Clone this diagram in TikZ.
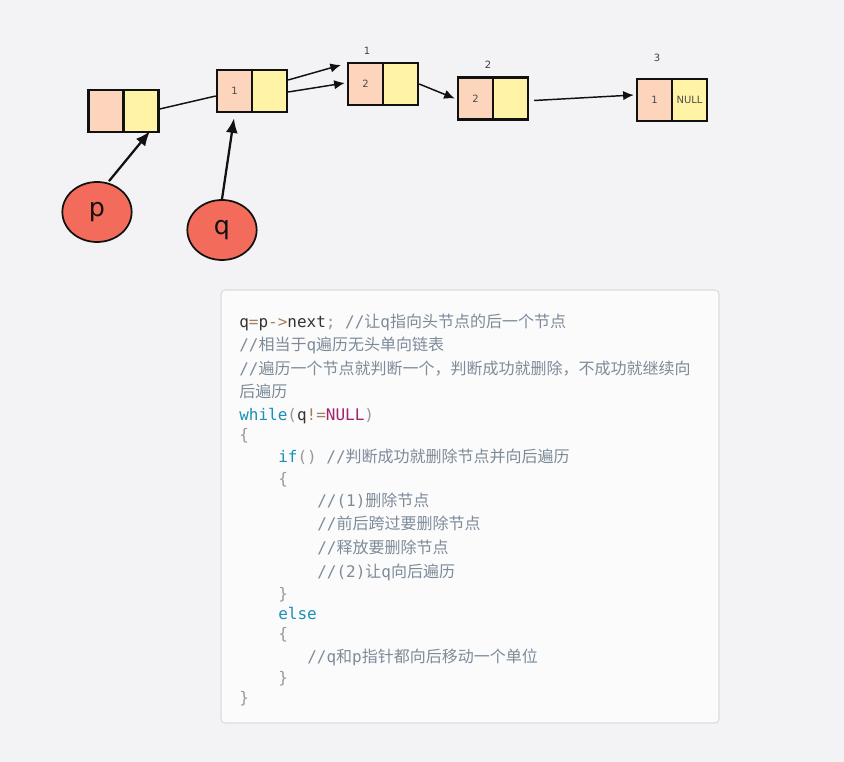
\documentclass[tikz,border=0pt]{standalone}
\usepackage{fontspec}
\setmainfont{DejaVu Sans}
\newfontfamily\cjk{Noto Sans CJK SC}
\newfontfamily\monof{DejaVu Sans Mono}
\usetikzlibrary{arrows.meta,calc,shapes.geometric}
\definecolor{bg}{HTML}{F3F3F6}
\definecolor{boxfill}{HTML}{FBFBFC}
\definecolor{boxline}{HTML}{DCDCE0}
\definecolor{peach}{HTML}{FDD4BC}
\definecolor{lemon}{HTML}{FFF3A6}
\definecolor{tomato}{HTML}{F26B5B}
\definecolor{ink}{HTML}{111111}
\definecolor{ctext}{HTML}{333333}
\definecolor{cop}{HTML}{A67F59}
\definecolor{ccom}{HTML}{7D8B99}
\definecolor{ckey}{HTML}{1990B8}
\definecolor{cnull}{HTML}{A0236B}
\definecolor{cpun}{HTML}{999999}
\newcommand\zh[1]{{\cjk #1}}
\tikzset{
  cellL/.style={draw=ink, line width=1.8pt, fill=peach, minimum width=26.25pt, minimum height=31.5pt, inner sep=0pt, font=\fontsize{7.5pt}{8pt}\selectfont, text=black!70},
  cellR/.style={draw=ink, line width=1.8pt, fill=lemon, minimum width=26.25pt, minimum height=31.5pt, inner sep=0pt, font=\fontsize{7.5pt}{8pt}\selectfont, text=black!70},
  ptr/.style={draw=ink, line width=1.3pt, fill=tomato, ellipse, minimum width=52pt, minimum height=45pt, inner sep=0pt, font=\fontsize{19pt}{20pt}\selectfont, text=ink},
  lab/.style={font=\fontsize{7.5pt}{8pt}\selectfont, text=black!75, inner sep=0pt},
  link/.style={draw=ink, line width=1.1pt, -{Latex[length=8pt,width=7pt]}},
  plink/.style={draw=ink, line width=1.7pt, -{Latex[length=11pt,width=9pt]}},
  code/.style={anchor=base west, inner sep=0pt, font=\monof\fontsize{12pt}{14pt}\selectfont, text=ccom},
}
\begin{document}
\begin{tikzpicture}[x=0.75pt,y=-0.75pt]
\fill[bg] (0,0) rectangle (844,762);
\useasboundingbox (0,0) rectangle (844,762);
% code box
\draw[boxline, fill=boxfill, rounded corners=3pt, line width=0.8pt] (221,290) rectangle (719,723);

% list nodes
\node[cellL] (A1) at (106,111) {};
\node[cellR] (A2) at (141,111) {};
\node[cellL] (B1) at (234.5,91) {1};
\node[cellR] (B2) at (269.5,91) {};
\node[cellL] (C1) at (365.5,84) {2};
\node[cellR] (C2) at (400.5,84) {};
\node[cellL] (D1) at (475.5,98.5) {2};
\node[cellR] (D2) at (510.5,98.5) {};
\node[cellL] (E1) at (654.5,100) {1};
\node[cellR] (E2) at (689.5,100) {NULL};
\node[lab] (lc) at (367,51) {1};
\node[lab] (ld) at (488,65) {2};
\node[lab] (le) at (657,58) {3};

\node[ptr] (p) at (97,212) {p};
\node[ptr] (q) at (222,230) {q};

\coordinate (free) at (341,65);

% connectors
\draw[ink, line width=1.1pt] ($(A2.east)+(0,-2)$) -- ($(B1.west)+(0,5)$);
\draw[link] ($(B2.east)+(0,-11)$) -- (free);
\draw[link] ($(B2.east)+(0,1)$) -- ($(C1.west)+(-2,-1)$);
\draw[link] (C2.east) -- ($(D1.west)+(-2,0)$);
\draw[link] ($(D2.east)+(5,2)$) -- ($(E1.west)+(-2,-5)$);
\draw[plink] ($(p.north)+(12,0)$) -- ($(A2.south)+(9,-2)$);
\draw[plink] (q.north) -- ($(B1.south)+(-0.5,5)$);

% code lines
\node[code] (l1) at (239,328) {\color{ctext}q\color{cop}=\color{ctext}p\color{cop}->\color{ctext}next\color{cpun};\ \color{ccom}//\zh{让}q\zh{指向头节点的后一个节点}};
\node[code] (l2) at (239,351) {//\zh{相当于}q\zh{遍历无头单向链表}};
\node[code] (l3) at (239,375) {//\zh{遍历一个节点就判断一个，判断成功就删除，不成功就继续向}};
\node[code] (l4) at (239,398) {\zh{后遍历}};
\node[code] (l5) at (239,421) {\color{ckey}while\color{cpun}(\color{ctext}q\color{cop}!=\color{cnull}NULL\color{cpun})};
\node[code, text=cpun] (l6) at (239,441) {\{};
\node[code] (l7) at (278,463) {\color{ckey}if\color{cpun}()\ \color{ccom}//\zh{判断成功就删除节点并向后遍历}};
\node[code, text=cpun] (l8) at (278,485) {\{};
\node[code] (l9) at (317,507) {//(1)\zh{删除节点}};
\node[code] (l10) at (317,530) {//\zh{前后跨过要删除节点}};
\node[code] (l11) at (317,554) {//\zh{释放要删除节点}};
\node[code] (l12) at (317,578) {//(2)\zh{让}q\zh{向后遍历}};
\node[code, text=cpun] (l13) at (278,600) {\}};
\node[code, text=ckey] (l14) at (278,620) {else};
\node[code, text=cpun] (l15) at (278,640) {\{};
\node[code] (l16) at (307,663) {//q\zh{和}p\zh{指针都向后移动一个单位}};
\node[code, text=cpun] (l17) at (278,684) {\}};
\node[code, text=cpun] (l18) at (239,704) {\}};
\end{tikzpicture}
\end{document}
